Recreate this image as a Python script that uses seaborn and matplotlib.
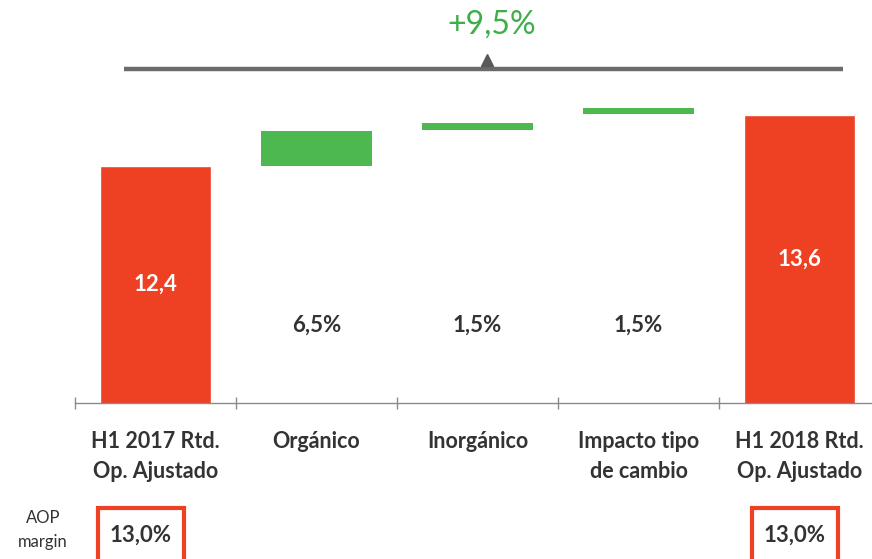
import pandas as pd
import numpy as np
import matplotlib.pyplot as plt
import seaborn as sns
from matplotlib.patches import Rectangle

categories = ['H1 2017 Rtd.\nOp. Ajustado', 'Orgánico', 'Inorgánico',
              'Impacto tipo\nde cambio', 'H1 2018 Rtd.\nOp. Ajustado']
totals = [12.4, np.nan, np.nan, np.nan, 13.6]
total_labels = ['12,4', '', '', '', '13,6']
step_start = [np.nan, 12.40, 13.25, 13.62, np.nan]
step_end = [np.nan, 13.22, 13.41, 13.77, np.nan]
step_labels = ['', '6,5%', '1,5%', '1,5%', '']
growth_label = '+9,5%'
margin_labels = ['13,0%', '13,0%']

red = '#EE4023'
green = '#4DB84F'
text_col = '#333333'

sns.set_theme(style='white')
plt.rcParams['font.family'] = ['Lato', 'DejaVu Sans']

fig = plt.figure(figsize=(8.72, 5.59), dpi=100)
ax = fig.add_axes([75 / 872, (559 - 403) / 559, 1 - 75 / 872, 403 / 559])

df = pd.DataFrame({'cat': categories, 'total': totals})
sns.barplot(data=df, x='cat', y='total', order=categories, color=red,
            width=0.69, ax=ax, saturation=1)

# floating green steps
for i in range(len(categories)):
    if not np.isnan(step_start[i]):
        ax.bar(i, step_end[i] - step_start[i], bottom=step_start[i],
               width=0.69, color=green, linewidth=0)

ymin, ymax = 6.824, 16.306
ax.set_ylim(ymin, ymax)
ax.set_xlim(-0.5, 4.45)

for i in range(len(categories)):
    if total_labels[i]:
        ax.text(i, (ymin + totals[i]) / 2, total_labels[i], ha='center', va='center',
                color='white', fontsize=16, fontweight='bold')
    if step_labels[i]:
        ax.text(i, 8.66, step_labels[i], ha='center', va='center',
                color=text_col, fontsize=16, fontweight='bold')

# growth bracket on top
ax.plot([-0.196, 4.27], [0.829, 0.829], color='#6b6b6b', lw=3.2,
        transform=ax.get_xaxis_transform(), solid_capstyle='butt', clip_on=False)
ax.plot([2.06], [0.852], marker='^', ms=9, color='#5a5a5a',
        transform=ax.get_xaxis_transform(), clip_on=False)
ax.text(2.09, 0.94, growth_label, ha='center', va='center', color='#3DAE49',
        fontsize=23, transform=ax.get_xaxis_transform())

# axes styling
sns.despine(ax=ax, left=True, top=True, right=True)
ax.spines['bottom'].set_color('#8a8a8a')
ax.spines['bottom'].set_linewidth(1)
ax.set_yticks([])
ax.set_xlabel('')
ax.set_ylabel('')
ax.set_xticks(range(len(categories)))
ax.set_xticklabels(categories, fontsize=15.5, fontweight='bold', color=text_col,
                   linespacing=1.55)
ax.tick_params(axis='x', which='major', length=0, pad=20)
ax.set_xticks(np.arange(-0.5, 4.5, 1), minor=True)
ax.tick_params(axis='x', which='minor', bottom=True, length=8, direction='inout',
               color='#8a8a8a', width=1)

# AOP margin boxes
fig.text(43 / 872, (559 - 530) / 559, 'AOP\nmargin', ha='center', va='center',
         fontsize=12, color=text_col, linespacing=1.6)
for x0, lab in zip([98, 752], margin_labels):
    fig.patches.append(Rectangle((x0 / 872, -0.02), 86 / 872, 0.02 + 51 / 559,
                                 transform=fig.transFigure, fill=False,
                                 edgecolor=red, lw=3))
    fig.text((x0 + 43) / 872, (559 - 535) / 559, lab, ha='center', va='center',
             fontsize=16, fontweight='bold', color=text_col)

fig.savefig('out.png', dpi=100)
